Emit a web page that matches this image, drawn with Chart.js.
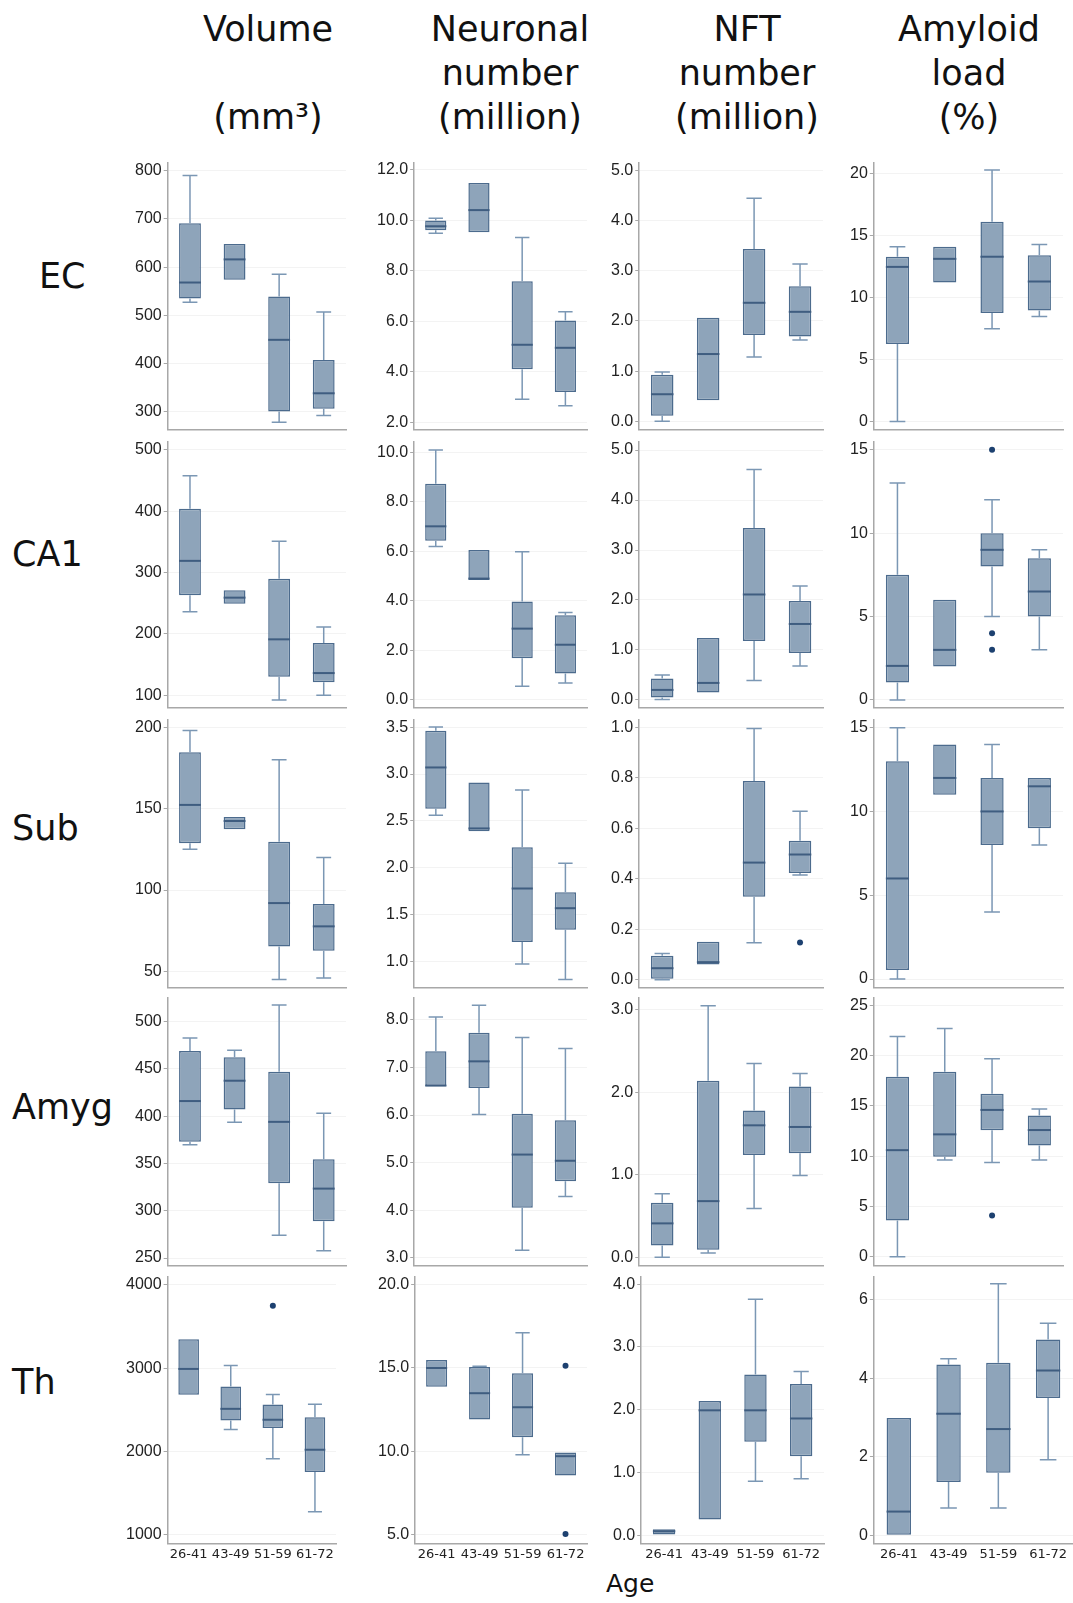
<!DOCTYPE html>
<html>
<head>
<meta charset="utf-8">
<script src="https://cdn.jsdelivr.net/npm/chart.js@4"></script>
<style>
  body { margin: 0; background: #fff; width: 1073px; height: 1603px; position: relative; overflow: hidden;
         font-family: "DejaVu Sans", sans-serif; color: #111; }
  .hdr { position: absolute; top: 7px; width: 240px; text-align: center; font-size: 35px; line-height: 44px; white-space: pre; }
  .lbl { position: absolute; font-size: 35px; line-height: 44px; white-space: nowrap; }
  canvas { position: absolute; }
</style>
</head>
<body>
<div class="hdr" style="left:148px">Volume

(mm³)</div>
<div class="hdr" style="left:390px">Neuronal
number
(million)</div>
<div class="hdr" style="left:627px">NFT
number
(million)</div>
<div class="hdr" style="left:849px">Amyloid
load
(%)</div>

<div class="lbl" style="left:39px;top:254px">EC</div>
<div class="lbl" style="left:12px;top:532px">CA1</div>
<div class="lbl" style="left:12px;top:806px">Sub</div>
<div class="lbl" style="left:12px;top:1085px">Amyg</div>
<div class="lbl" style="left:12px;top:1360px">Th</div>
<div class="lbl" style="left:606px;top:1569px;font-size:25px;line-height:30px">Age</div>

<script>
const ageGroups = ['26-41', '43-49', '51-59', '61-72'];

// each box: [min, q1, median, q3, max]
const volEC  = [[527, 535, 568, 691, 790], [574, 574, 616, 648, 648], [278, 300, 449, 539, 585], [292, 306, 338, 407, 507]];
const neuEC  = [[9.48, 9.6, 9.76, 9.99, 10.08], [9.52, 9.52, 10.4, 11.47, 11.47], [2.91, 4.1, 5.07, 7.58, 9.32], [2.66, 3.2, 4.95, 6.03, 6.38]];
const nftEC  = [[0, 0.11, 0.54, 0.93, 0.98], [0.42, 0.42, 1.34, 2.06, 2.06], [1.28, 1.72, 2.36, 3.43, 4.44], [1.62, 1.69, 2.18, 2.69, 3.13]];
const amyEC  = [[0, 6.25, 12.48, 13.3, 14.1], [11.22, 11.22, 13.13, 14.1, 14.1], [7.49, 8.75, 13.3, 16.13, 20.3], [8.48, 8.96, 11.3, 13.42, 14.28]];

const volCA1 = [[236, 263, 319, 404, 458], [249, 249, 259, 271, 271], [92, 130, 191, 290, 351], [100, 121, 136, 185, 211]];
const neuCA1 = [[6.2, 6.43, 7.01, 8.73, 10.09], [4.84, 4.84, 4.9, 6.05, 6.05], [0.55, 1.68, 2.88, 3.97, 5.98], [0.68, 1.07, 2.23, 3.42, 3.53]];
const nftCA1 = [[0.01, 0.05, 0.2, 0.43, 0.5], [0.15, 0.15, 0.34, 1.24, 1.24], [0.39, 1.18, 2.11, 3.44, 4.61], [0.68, 0.94, 1.52, 1.98, 2.28]];
const amyCA1 = [[0, 1.05, 2.04, 7.5, 13], [2, 2, 3, 6, 6], [5, 8, 9, 10, 12], [3, 5, 6.5, 8.5, 9]];

const volSub = [[125, 128.7, 152.3, 184.6, 198], [137.3, 137.3, 142.4, 144.9, 144.9], [45, 65.4, 92, 129.7, 180], [46, 62.7, 77.7, 91.4, 120]];
const neuSub = [[2.56, 2.63, 3.07, 3.46, 3.5], [2.39, 2.39, 2.42, 2.91, 2.91], [0.975, 1.21, 1.78, 2.22, 2.83], [0.81, 1.34, 1.57, 1.74, 2.05]];
const nftSub = [[0, 0.004, 0.046, 0.095, 0.104], [0.061, 0.061, 0.07, 0.151, 0.151], [0.147, 0.329, 0.464, 0.787, 0.995], [0.415, 0.423, 0.496, 0.55, 0.667]];
const amySub = [[0, 0.54, 6, 13, 15], [11, 11, 12, 14, 14], [4, 8, 10, 12, 14], [8, 9, 11.5, 12, 12]];

const volAmyg = [[369.7, 372.9, 416, 468.9, 482.7], [393.7, 407, 437.5, 462.2, 469.6], [274, 329, 394, 447, 517.7], [257.8, 288.8, 323.4, 354.5, 403]];
const neuAmyg = [[6.61, 6.61, 6.62, 7.34, 8.06], [6.01, 6.57, 7.13, 7.73, 8.31], [3.16, 4.05, 5.17, 6.03, 7.63], [4.29, 4.61, 5.04, 5.89, 7.4]];
const nftAmyg = [[0, 0.14, 0.41, 0.66, 0.77], [0.05, 0.09, 0.68, 2.14, 3.05], [0.59, 1.24, 1.6, 1.78, 2.35], [0.99, 1.26, 1.58, 2.07, 2.23]];
const amyAmyg = [[0, 3.61, 10.6, 17.9, 21.9], [9.62, 9.95, 12.17, 18.4, 22.7], [9.38, 12.57, 14.6, 16.2, 19.7], [9.62, 11.07, 12.6, 14.05, 14.7]];

const volTh = [[2680, 2680, 2991, 3346, 3346], [2265, 2373, 2512, 2780, 3031], [1914, 2281, 2381, 2564, 2684], [1276, 1754, 2021, 2412, 2568]];
const neuTh = [[13.86, 13.86, 14.98, 15.46, 15.46], [11.89, 11.89, 13.47, 15.04, 15.08], [9.78, 10.84, 12.63, 14.66, 17.09], [8.55, 8.55, 9.7, 9.92, 9.92]];
const nftTh = [[0.01, 0.01, 0.064, 0.095, 0.095], [0.25, 0.25, 1.99, 2.14, 2.14], [0.86, 1.49, 1.99, 2.56, 3.76], [0.9, 1.26, 1.86, 2.41, 2.61]];
const amyTh = [[0.02, 0.02, 0.61, 2.99, 2.99], [0.7, 1.36, 3.1, 4.35, 4.5], [0.7, 1.6, 2.71, 4.4, 6.41], [1.93, 3.5, 4.2, 4.99, 5.4]];

// outlying points per age group
const noOut = [[], [], [], []];
const outAmyCA1 = [[], [], [15, 4, 3], []];
const outNftSub = [[], [], [], [0.148]];
const outAmyAmyg = [[], [], [4.11], []];
const outVolTh = [[], [], [3749], []];
const outNeuTh = [[], [], [], [15.12, 5.04]];

// y axis per panel: [min, max, tick step, decimals]
const axisEC   = [[263, 817, 100, 0], [1.72, 12.28, 2, 1], [-0.16, 5.15, 1, 1], [-0.64, 20.9, 5, 0]];
const axisCA1  = [[80, 513.5, 100, 0], [-0.3, 10.43, 2, 1], [-0.15, 5.17, 1, 1], [-0.45, 15.49, 5, 0]];
const axisSub  = [[40.2, 204.7, 50, 0], [0.726, 3.58, 0.5, 1], [-0.03, 1.03, 0.2, 1], [-0.5, 15.48, 5, 0]];
const axisAmyg = [[242.2, 525.4, 50, 0], [2.84, 8.47, 1, 1], [-0.1, 3.15, 1, 1], [-0.86, 25.77, 5, 0]];
const axisTh   = [[897, 4099, 1000, 0], [4.48, 20.45, 5, 1], [-0.13, 4.12, 1, 1], [-0.2, 6.59, 2, 0]];

const rows = [
  { boxes: [volEC, neuEC, nftEC, amyEC], outs: [noOut, noOut, noOut, noOut], axes: axisEC },
  { boxes: [volCA1, neuCA1, nftCA1, amyCA1], outs: [noOut, noOut, noOut, outAmyCA1], axes: axisCA1 },
  { boxes: [volSub, neuSub, nftSub, amySub], outs: [noOut, noOut, outNftSub, noOut], axes: axisSub },
  { boxes: [volAmyg, neuAmyg, nftAmyg, amyAmyg], outs: [noOut, noOut, noOut, outAmyAmyg], axes: axisAmyg },
  { boxes: [volTh, neuTh, nftTh, amyTh], outs: [outVolTh, outNeuTh, noOut, noOut], axes: axisTh }
];

// plot area placement on the page
const colX = [[168, 346], [414, 587], [639, 823], [874, 1063]];
const lastRowX = [[168, 336], [415, 587], [641, 824], [874, 1073]];
const rowY = [[163, 430], [442, 708], [720, 988], [998, 1266], [1277, 1544]];

const BOX_FILL = '#8ea4ba';
const BOX_LINE = '#4c6b8d';
const WHISKER = '#7b97b4';
const MEDIAN = '#3f5d80';
const DOT = '#1d4170';
const AXIS = '#a8a8a8';
const GRID = '#f3f3f3';

Chart.defaults.font.family = 'Liberation Sans';

const whiskerPlugin = {
  id: 'boxWhiskers',
  afterDatasetsDraw(chart) {
    const ctx = chart.ctx;
    const y = chart.scales.y;
    const stats = chart.data.datasets[0].stats;
    const bars = chart.getDatasetMeta(0).data;
    ctx.save();
    stats.forEach((b, i) => {
      const bar = bars[i];
      const cx = bar.x, half = bar.width / 2, cap = bar.width * 0.34;
      const [mn, q1, md, q3, mx] = b.map(v => y.getPixelForValue(v));
      ctx.strokeStyle = WHISKER;
      ctx.lineWidth = 1.5;
      ctx.beginPath();
      if (b[4] > b[3]) {
        ctx.moveTo(cx, q3); ctx.lineTo(cx, mx);
        ctx.moveTo(cx - cap, mx); ctx.lineTo(cx + cap, mx);
      }
      if (b[0] < b[1]) {
        ctx.moveTo(cx, q1); ctx.lineTo(cx, mn);
        ctx.moveTo(cx - cap, mn); ctx.lineTo(cx + cap, mn);
      }
      ctx.stroke();
      ctx.strokeStyle = MEDIAN;
      ctx.lineWidth = 2;
      ctx.beginPath();
      ctx.moveTo(cx - half, md); ctx.lineTo(cx + half, md);
      ctx.stroke();
    });
    ctx.restore();
  }
};

function makeConfig(boxes, outs, axis, showX) {
  const [ymin, ymax, step, dec] = axis;
  const outPts = [];
  outs.forEach((vals, i) => vals.forEach(v => outPts.push({ x: ageGroups[i], y: v })));
  return {
    type: 'bar',
    data: {
      labels: ageGroups,
      datasets: [{
        data: boxes.map(b => [b[1], b[3]]),
        stats: boxes,
        backgroundColor: BOX_FILL,
        borderColor: BOX_LINE,
        borderWidth: 1.5,
        borderSkipped: false,
        barPercentage: 0.49,
        categoryPercentage: 1
      }, {
        type: 'line',
        data: outPts,
        showLine: false,
        pointRadius: 3,
        pointBackgroundColor: DOT,
        pointBorderWidth: 0
      }]
    },
    options: {
      responsive: false,
      animation: false,
      events: [],
      layout: { padding: { top: 4, right: 4, bottom: 2, left: 0 } },
      plugins: { legend: { display: false }, tooltip: { enabled: false } },
      scales: {
        x: {
          grid: { display: false, drawTicks: false },
          border: { color: AXIS, width: 1.5 },
          ticks: {
            display: showX, padding: 3, color: '#222', autoSkip: false, maxRotation: 0, minRotation: 0,
            font: { family: 'DejaVu Sans', size: 13 }
          }
        },
        y: {
          min: ymin,
          max: ymax,
          grid: { color: GRID, tickColor: AXIS, tickLength: 4 },
          border: { color: AXIS, width: 1.5 },
          afterBuildTicks: scale => {
            const ticks = [];
            for (let k = Math.ceil(ymin / step - 1e-9); k * step <= ymax + 1e-9; k++) {
              ticks.push({ value: +(k * step).toFixed(6) });
            }
            scale.ticks = ticks;
          },
          ticks: {
            padding: 2,
            color: '#222',
            font: { size: 16 },
            callback: v => Number(v).toFixed(dec)
          }
        }
      }
    },
    plugins: [whiskerPlugin]
  };
}

function drawPanel(L, T, R, B, build) {
  // first pass measures the space the axes take, second pass places the plot area exactly
  const probe = document.createElement('canvas');
  probe.width = 400;
  probe.height = 400;
  document.body.appendChild(probe);
  const tmp = new Chart(probe, build());
  const a = tmp.chartArea;
  const inL = a.left, inT = a.top, inR = tmp.width - a.right, inB = tmp.height - a.bottom;
  tmp.destroy();
  probe.remove();

  const cv = document.createElement('canvas');
  cv.width = Math.round(R - L + inL + inR);
  cv.height = Math.round(B - T + inT + inB);
  cv.style.left = Math.round(L - inL) + 'px';
  cv.style.top = Math.round(T - inT) + 'px';
  document.body.appendChild(cv);
  new Chart(cv, build());
}

rows.forEach((row, r) => {
  const last = r === rows.length - 1;
  const xs = last ? lastRowX : colX;
  for (let c = 0; c < 4; c++) {
    drawPanel(xs[c][0], rowY[r][0], xs[c][1], rowY[r][1],
      () => makeConfig(row.boxes[c], row.outs[c], row.axes[c], last));
  }
});
</script>
</body>
</html>
